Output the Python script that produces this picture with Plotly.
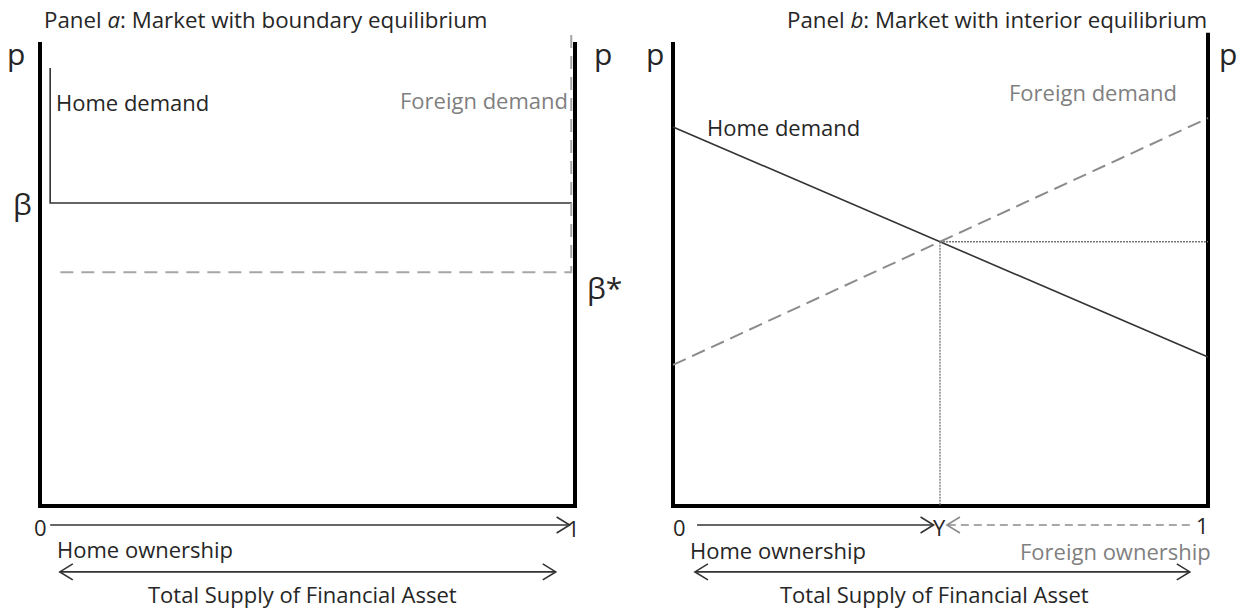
import plotly.graph_objects as go

# ---------------- data (conceptual units: share x in [0,1], price p) ----------------
# Panel a: boundary equilibrium
a_home_x = [0.019, 0.019, 0.994]
a_home_p = [0.944, 0.653, 0.653]          # vertical then flat at beta
a_foreign_x = [0.993, 0.993, 0.037]
a_foreign_p = [1.015, 0.504, 0.504]       # vertical then flat at beta*
a_beta = 0.653
a_beta_star = 0.504

# Panel b: interior equilibrium (linear demands)
b_share = [0.0, 1.0]
b_home_p = [0.817, 0.321]
b_foreign_p = [0.304, 0.836]

# frame of each panel
frame_x = [0, 0, 1, 1]
frame_a_p = [1.0, 0, 0, 1.0]
frame_b_p = [1.0, 0, 0, 1.02]

# equilibrium of panel b (intersection of the two lines)
sh = (b_home_p[0] - b_foreign_p[0]) / ((b_home_p[0] - b_home_p[1]) + (b_foreign_p[1] - b_foreign_p[0]))
ph = b_home_p[0] + (b_home_p[1] - b_home_p[0]) * sh

FONT = "Open Sans"
TXT = "#262626"
GREY = "#7f7f7f"

fig = go.Figure()

def add_line(x, y, axis, color, width, dash="solid"):
    fig.add_trace(go.Scatter(x=x, y=y, mode="lines", xaxis="x" + axis, yaxis="y" + axis,
                             line=dict(color=color, width=width, dash=dash),
                             hoverinfo="skip", showlegend=False))

# panel a
add_line(frame_x, frame_a_p, "", "black", 4)
add_line(a_home_x, a_home_p, "", "#333333", 1.6)
add_line(a_foreign_x, a_foreign_p, "", "#a6a6a6", 2, "13px,8px")
# panel b
add_line(frame_x, frame_b_p, "2", "black", 4)
add_line(b_share, b_home_p, "2", "#333333", 1.6)
add_line(b_share, b_foreign_p, "2", "#8c8c8c", 2, "14px,7px")
add_line([sh, 1.0], [ph, ph], "2", "#777777", 1.3, "2px,1px")
add_line([sh, sh], [ph, 0.0], "2", "#777777", 1.3, "2px,1px")

# bottom arrows (ownership and total supply)
ARROW_P = -0.041
SUPPLY_P = -0.142
add_line([0.019, 0.99], [ARROW_P, ARROW_P], "", "#333333", 1.6)
add_line([0.037, 0.964], [SUPPLY_P, SUPPLY_P], "", "#333333", 1.6)
add_line([0.045, sh - 0.012], [ARROW_P, ARROW_P], "2", "#333333", 1.6)
add_line([0.966, sh + 0.013], [ARROW_P, ARROW_P], "2", "#8c8c8c", 1.6, "8px,5px")
add_line([0.041, 0.966], [SUPPLY_P, SUPPLY_P], "2", "#333333", 1.6)

shapes = []
def chevron(ax, x, y, direction, color="#333333"):
    s = 1 if direction == "right" else -1
    shapes.append(dict(type="path", xref="x" + ax, yref="y" + ax,
                       xsizemode="pixel", ysizemode="pixel", xanchor=x, yanchor=y,
                       path=f"M {-13*s},8 L 0,0 L {-13*s},-8",
                       line=dict(color=color, width=1.6)))

chevron("", 0.99, ARROW_P, "right")
chevron("", 0.964, SUPPLY_P, "right")
chevron("", 0.037, SUPPLY_P, "left")
chevron("2", sh - 0.012, ARROW_P, "right")
chevron("2", sh + 0.013, ARROW_P, "left", "#8c8c8c")
chevron("2", 0.966, SUPPLY_P, "right")
chevron("2", 0.041, SUPPLY_P, "left")

ann = []
def text(ax, x, y, s, size=22, color=TXT, xanchor="center", ref=True, height=None):
    d = dict(xref=("x" + ax) if ref else "paper", yref=("y" + ax) if ref else "paper",
             x=x, y=y, text=s, showarrow=False, xanchor=xanchor, yanchor="middle",
             font=dict(family=FONT, size=size, color=color))
    if height:
        d["height"] = height
    ann.append(d)

W, H = 1242, 610
SPLIT = 621 / W

# titles
text("", 42 / W, 1 - 19 / H, "Panel <i>a</i>: Market with boundary equilibrium", 22.3, xanchor="left", ref=False)
text("", 785 / W, 1 - 19 / H, "Panel <i>b</i>: Market with interior equilibrium", 22.3, xanchor="left", ref=False)

# panel a labels
text("", -0.044, 0.975, "p", 30)
text("", 1.053, 0.975, "p", 30)
text("", -0.033, a_beta, "β", 30)
text("", 1.056, a_beta_star - 0.033, "β*", 30)
text("", 0.027, 0.871, "Home demand", 22, xanchor="left")
text("", 0.991, 0.875, "Foreign demand", 22, GREY, xanchor="right")
text("", 0.0, -0.045, "0", 22)
text("", 0.997, -0.047, "1", 22)
text("", 0.028, -0.093, "Home ownership", 22, xanchor="left")
text("", 0.49, -0.1905, "Total Supply of Financial Asset", 22)

# panel b labels
text("2", -0.034, 0.975, "p", 30)
text("2", 1.037, 0.975, "p", 30)
text("2", 0.06, 0.817, "Home demand", 22, xanchor="left")
text("2", 0.624, 0.892, "Foreign demand", 22, GREY, xanchor="left")
text("2", 0.013, -0.045, "0", 22)
text("2", sh, -0.045, "Υ", 22)
text("2", 0.99, -0.042, "1", 22, height=18)
text("2", 1.01, -0.096, "Foreign ownership", 22, GREY, xanchor="right")
text("2", 0.028, -0.095, "Home ownership", 22, xanchor="left")
text("2", 0.488, -0.1905, "Total Supply of Financial Asset", 22)

hidden = dict(visible=False, showgrid=False, zeroline=False, fixedrange=True)
fig.update_layout(
    width=W, height=H,
    margin=dict(l=0, r=0, t=0, b=0),
    paper_bgcolor="white", plot_bgcolor="white",
    showlegend=False,
    # x: share 0 -> left frame, 1 -> right frame;  p: 0 -> bottom frame, 1 -> top
    xaxis=dict(domain=[0, SPLIT], range=[-40 / 535, (621 - 40) / 535], **hidden),
    yaxis=dict(domain=[0, 1], range=[-(610 - 506) / 464, 506 / 464], **hidden),
    xaxis2=dict(domain=[SPLIT, 1], range=[(621 - 673) / 535, (1242 - 673) / 535], anchor="y2", **hidden),
    yaxis2=dict(domain=[0, 1], range=[-(610 - 506) / 464, 506 / 464], anchor="x2", **hidden),
    shapes=shapes,
    annotations=ann,
)

fig.write_html("out.html", config={"displayModeBar": False},
               post_script="document.body.style.margin='0';")
